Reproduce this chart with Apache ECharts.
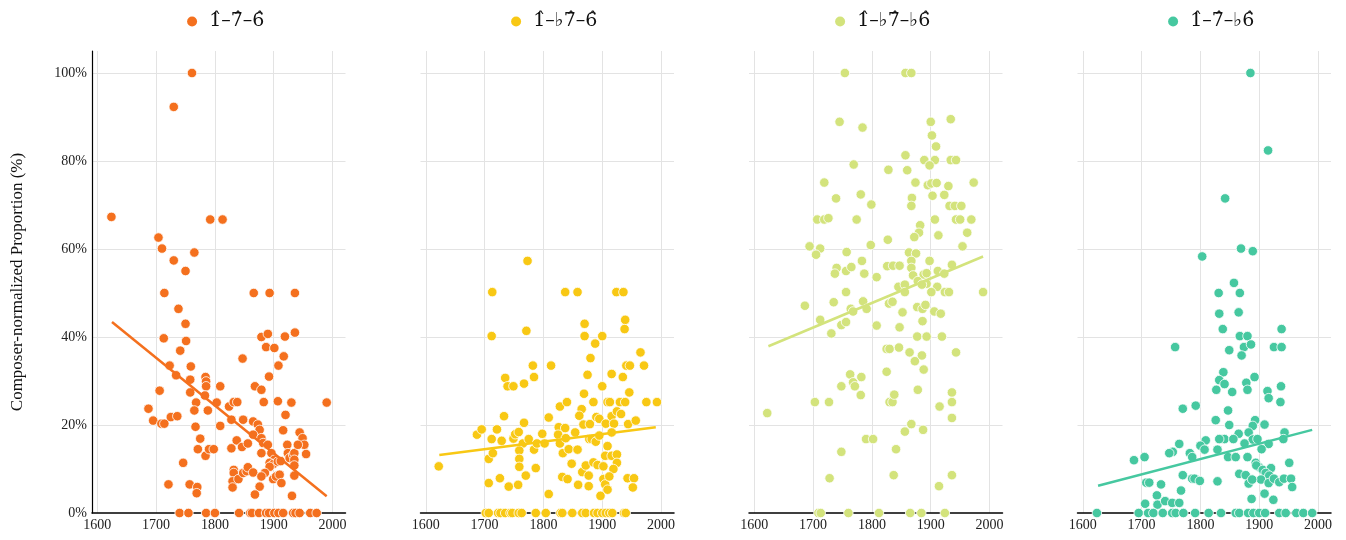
<!DOCTYPE html>
<html>
<head>
<meta charset="utf-8">
<script src="https://cdn.jsdelivr.net/npm/echarts@6/dist/echarts.min.js"></script>
<style>
html,body{margin:0;padding:0;background:#fff;}
#chart{width:1346px;height:540px;}
</style>
</head>
<body>
<div id="chart"></div>
<script>
// ---- Data (years, composer-normalized proportion %) ----
const panelTitles = ['1\u0302\u20137\u0302\u20136\u0302', '1\u0302\u2013\u266D7\u0302\u20136\u0302', '1\u0302\u2013\u266D7\u0302\u2013\u266D6\u0302', '1\u0302\u20137\u0302\u2013\u266D6\u0302'];
const xTickLabels = [1600, 1700, 1800, 1900, 2000];
const yTickLabels = [0, 20, 40, 60, 80, 100];

const p1Points = [[1761,100],[1730,92.3],[1624,67.3],[1792,66.7],[1813,66.7],[1704,62.6],[1710,60.1],[1765,59.2],[1730,57.4],[1750,55],
[1714,50],[1866,50],[1893,50],[1936,50],[1738,46.4],[1750,43],[1713,39.7],[1751,39.1],[1741,36.9],[1879,40],[1890,40.7],[1887,37.7],[1901,37.5],[1919,40.1],[1936,41],[1917,35.6],[1847,35.1],[1723,33.5],[1908,33.5],[1734,31.3],[1759,33.3],[1758,30.3],[1784,30.9],[1785,29.9],[1785,28.8],[1809,28.8],[1783,26.7],[1758,27.4],[1706,27.8],[1768,25.1],[1803,25.1],[1788,23.3],[1765,23.3],[1687,23.7],[1695,21],[1709,20.3],[1714,20.3],[1725,21.8],[1736,22],[1767,19.6],[1775,16.9],[1771,14.5],[1784,13],[1790,14.5],[1798,14.5],[1809,19.8],[1824,24.2],[1832,25.2],[1838,25.2],[1828,21.2],[1848,21.2],[1837,16.5],[1828,14.7],[1846,15],[1856,15.8],[1746,11.4],[1721,6.5],[1757,6.5],[1770,5.9],[1769,4.5],[1832,9.8],[1832,9.1],[1830,7.2],[1830,5.8],[1840,7.7],[1848,9.1],[1854,9.5],[1856,10.4],[1865,9.2],[1865,20.8],[1873,20.1],[1876,18.9],[1865,17.8],[1879,17],[1882,15.9],[1890,15.5],[1879,13.6],[1896,13.6],[1901,12.1],[1893,11.4],[1899,11.1],[1893,10.5],[1885,9.1],[1879,8.3],[1876,6],[1868,4.2],[1899,7.7],[1904,8.3],[1910,8.7],[1913,6.8],[1907,11.7],[1912,11.8],[1916,18.8],[1920,22.3],[1923,15.5],[1924,13.6],[1927,12.5],[1933,13.2],[1935,13.6],[1935,12.1],[1935,10.8],[1935,8.5],[1931,3.9],[1930,25.1],[1944,18.3],[1949,17],[1952,15.5],[1941,15.5],[1955,13.4],[1990,25.1],[1907,25.4],[1883,25.2],[1868,28.8],[1879,28],[1892,31]];
const p1ZeroYears = [1740,1755,1785,1800,1841,1860,1863,1875,1887,1892,1901,1908,1916,1933,1937,1944,1962,1973];
const p1Trend = [[1625,43.4],[1990,3.8]];

const p2Points = [[1773,57.3],[1713,50.2],[1837,50.2],[1858,50.2],[1924,50.2],[1936,50.2],[1870,43],[1939,43.9],[1938,41.8],[1712,40.2],[1771,41.4],[1870,40.2],[1900,40.2],[1888,38.5],[1965,36.5],[1880,35.2],[1782,33.5],[1813,33.5],[1941,33.5],[1947,33.5],[1971,33.5],[1875,31.4],[1916,31.6],[1935,30.9],[1735,30.7],[1784,30.9],[1739,28.8],[1749,28.8],[1767,29.4],[1900,28.8],[1869,27.1],[1946,27.4],[1828,24.2],[1840,25.2],[1885,25.2],[1909,25.2],[1913,25.2],[1930,25.2],[1939,25.2],[1975,25.2],[1993,25.2],[1733,22],[1809,21.7],[1865,23.6],[1861,22.1],[1890,21.8],[1895,21.4],[1916,22],[1925,23.1],[1932,22.5],[1767,20.5],[1826,19.5],[1868,20.1],[1879,20.2],[1906,20.3],[1920,20.3],[1944,20.2],[1957,21],[1687,17.8],[1695,19],[1721,19],[1712,16.8],[1729,16.4],[1749,16.9],[1752,17.9],[1758,18.4],[1765,15.8],[1775,16.8],[1784,14.4],[1789,15.8],[1798,18],[1802,15.8],[1825,17.8],[1828,15.8],[1837,19.3],[1838,17],[1833,13.6],[1843,14.5],[1854,18.3],[1858,14.4],[1878,16.8],[1882,16.8],[1889,16.2],[1895,17.6],[1909,15.2],[1916,18.3],[1905,13],[1916,13],[1925,13.3],[1925,11.4],[1919,10],[1707,12.3],[1714,13.6],[1759,14.2],[1759,12.3],[1759,10.5],[1787,10.2],[1848,11.2],[1866,9.3],[1877,8.5],[1872,10.8],[1885,11.5],[1892,10.9],[1902,10.6],[1622,10.6],[1707,6.8],[1726,7.9],[1741,6],[1757,6.4],[1770,8.5],[1832,8.2],[1841,7.7],[1859,6.4],[1877,6.1],[1902,7.7],[1905,6.5],[1909,5.3],[1912,8.3],[1943,7.9],[1954,7.9],[1952,5.8],[1809,4.3],[1897,3.9]];
const p2ZeroYears = [1702,1707,1723,1727,1735,1744,1747,1758,1763,1787,1804,1829,1832,1849,1866,1872,1886,1892,1900,1906,1912,1917,1937,1940];
const p2Trend = [[1623,13.2],[1991,19.5]];

const p3Points = [[1754,100],[1857,100],[1867,100],[1745,88.9],[1784,87.6],[1900,88.9],[1934,89.5],[1902,85.8],[1909,83.3],[1857,81.3],[1889,80.2],[1907,80.2],[1898,79],[1934,80.2],[1943,80.2],[1769,79.2],[1828,78],[1860,77.9],[1719,75.1],[1874,75.1],[1895,74.5],[1901,74.9],[1910,75],[1930,74.3],[1973,75.1],[1739,71.5],[1781,72.4],[1799,70.1],[1868,71.6],[1903,72.1],[1923,72.3],[1867,69.8],[1932,69.8],[1941,69.8],[1952,69.8],[1707,66.7],[1719,66.7],[1726,67],[1774,66.7],[1907,66.7],[1943,66.7],[1950,66.7],[1969,66.7],[1882,65.4],[1880,63.7],[1872,62.7],[1913,63.1],[1962,63.7],[1827,62.1],[1694,60.6],[1712,60.1],[1705,58.7],[1798,60.9],[1954,60.6],[1757,59.3],[1863,59.2],[1875,59],[1867,57.3],[1898,57.3],[1783,57.3],[1826,56.1],[1836,56.2],[1847,56.2],[1936,56.4],[1740,55.7],[1756,55],[1765,55.9],[1737,54.4],[1787,54.4],[1808,53.6],[1867,55.7],[1870,54],[1888,54.2],[1893,54.5],[1912,55],[1923,54.4],[1878,52.7],
[1845,51.4],[1856,51.9],[1856,50.2],[1893,52.1],[1885,51.9],[1911,51.4],[1924,50.2],[1931,50.2],[1989,50.2],[1756,50.2],[1735,47.9],[1686,47.1],[1785,48.1],[1791,46.4],[1764,46.4],[1768,45.8],[1829,47.6],[1835,48],[1852,45.6],[1877,46.8],[1886,46.4],[1891,47.3],[1906,45.8],[1917,45.3],[1901,50.2],[1712,43.9],[1748,42.7],[1756,43.4],[1808,42.6],[1847,42.2],[1886,43.6],[1731,40.8],[1877,40.1],[1893,40.1],[1919,40.1],[1825,37.3],[1830,37.3],[1846,37.6],[1864,36.5],[1885,35.8],[1873,34.5],[1888,32.6],[1943,36.5],[1825,32.1],[1763,31.5],[1782,30.9],[1768,29.7],[1771,28.8],[1748,28.8],[1781,26.8],[1703,25.2],[1727,25.2],[1830,25.2],[1835,25.2],[1838,26.9],[1878,28],[1936,27.4],[1936,25.2],[1915,24.2],[1936,21.6],[1622,22.7],[1867,20.2],[1856,18.5],[1887,18.9],[1790,16.8],[1802,16.8],[1841,14.5],[1748,13.9],[1728,7.9],[1837,8.6],[1936,8.6],[1914,6.1]];
const p3ZeroYears = [1709,1713,1760,1812,1865,1884,1924];
const p3Trend = [[1624,37.9],[1989,58.3]];

const p4Points = [[1885,100],[1915,82.4],[1842,71.5],[1869,60.1],[1889,59.5],[1803,58.3],[1857,52.3],[1831,50],[1867,50],
[1832,45.3],[1865,45.6],[1838,41.8],[1938,41.8],[1867,40.2],[1880,40.2],[1874,37.7],[1886,38.3],[1870,35.8],[1849,37],[1757,37.7],[1925,37.7],[1938,37.7],[1839,32],[1832,30.2],[1841,29.3],[1827,28],[1854,27.5],[1878,29.6],[1880,28],[1892,30.9],[1914,27.7],[1916,26.1],[1937,28.8],[1936,25.2],[1770,23.7],[1792,24.4],[1847,23.3],[1826,21.1],[1849,20],[1893,21.1],[1889,19.8],[1909,20.1],[1882,18.3],[1865,18],[1841,16.8],[1832,16.8],[1809,16.5],[1856,16.8],[1889,16.7],[1897,16.8],[1916,15.7],[1904,14.5],[1943,18.3],[1941,16.8],[1875,15.8],[1764,15.7],[1753,13.9],[1747,13.6],[1800,15.3],[1807,14.4],[1829,14.4],[1782,13.6],[1786,12.7],[1847,12.7],[1860,12.7],[1880,12.7],[1687,12],[1705,12.7],[1894,11.4],[1900,10.4],[1895,10.8],[1906,9.8],[1920,10.2],[1951,11.4],[1866,8.9],[1877,8.6],[1911,9.1],[1917,8.5],[1903,7.6],[1916,6.8],[1925,7.8],[1934,7],[1942,7.8],[1954,7.8],[1956,5.9],[1882,6.7],[1888,7.6],[1770,8.6],[1786,7.8],[1790,7.8],[1799,7.3],[1829,7.2],[1708,6.9],[1713,6.9],[1733,6.5],[1767,5.1],[1726,4],[1887,3.2],[1909,4.4],[1924,3],[1706,2.1],[1727,1.9],[1740,2.7],[1752,2.3],[1764,2.3]];
const p4ZeroYears = [1624,1695,1711,1720,1736,1752,1758,1771,1791,1814,1835,1860,1866,1881,1890,1900,1910,1934,1945,1963,1975,1990];
const p4Trend = [[1626,6.2],[1990,18.9]];

const panelColors = ['#F4701E', '#F8C814', '#D3E37C', '#46C8A0'];

// ---- Build chart ----
const allPoints = [p1Points, p2Points, p3Points, p4Points];
const allZeros = [p1ZeroYears, p2ZeroYears, p3ZeroYears, p4ZeroYears];
const allTrends = [p1Trend, p2Trend, p3Trend, p4Trend];

const serif = "'Liberation Serif', 'DejaVu Serif', serif";
const titleFont = "'DejaVu Serif', 'Liberation Serif', serif";
const gridLefts = [92, 420.5, 749, 1077.5];
const gridWidth = 253.5;

const grids = [], xAxes = [], yAxes = [], series = [], titles = [];
gridLefts.forEach((left, i) => {
  grids.push({left: left, top: 51, width: gridWidth, height: 462, containLabel: false});
  xAxes.push({
    type: 'value', gridIndex: i, min: 1591, max: 2022,
    minInterval: 100, maxInterval: 100,
    axisLine: {show: true, onZero: false, lineStyle: {color: '#000', width: 1.5}},
    axisTick: {show: false},
    axisLabel: {show: true, showMinLabel: false, showMaxLabel: false, margin: 5,
      fontFamily: serif, fontSize: 14, color: '#222',
      formatter: v => xTickLabels.includes(v) ? String(v) : ''},
    splitLine: {show: true, showMinLine: false, showMaxLine: false, lineStyle: {color: '#e3e3e3', width: 1}}
  });
  yAxes.push({
    type: 'value', gridIndex: i, min: 0, max: 105,
    minInterval: 20, maxInterval: 20,
    name: i === 0 ? 'Composer-normalized Proportion (%)' : '',
    nameLocation: 'middle', nameGap: 66, nameRotate: 90,
    nameTextStyle: {fontFamily: serif, fontSize: 17, color: '#111'},
    axisLine: {show: i === 0, lineStyle: {color: '#000', width: 1.2}},
    axisTick: {show: false},
    axisLabel: {show: i === 0, showMaxLabel: false, margin: 5,
      fontFamily: serif, fontSize: 14, color: '#222',
      formatter: v => yTickLabels.includes(v) ? v + '%' : ''},
    splitLine: {show: true, showMinLine: false, showMaxLine: false, lineStyle: {color: '#e3e3e3', width: 1}}
  });
  const pts = allPoints[i].concat(allZeros[i].map(y => [y, 0]));
  series.push({
    type: 'scatter', name: panelTitles[i], xAxisIndex: i, yAxisIndex: i,
    data: pts, symbolSize: 9.5, z: 2,
    itemStyle: {color: panelColors[i], borderColor: '#fff', borderWidth: 0.8, opacity: 1}
  });
  series.push({
    type: 'line', xAxisIndex: i, yAxisIndex: i, data: allTrends[i],
    showSymbol: false, symbol: 'none', z: 3, silent: true,
    lineStyle: {color: panelColors[i], width: 2.5}
  });
  titles.push({
    text: '{d|}  ' + panelTitles[i],
    left: left + gridWidth / 2 + 2, top: 7, textAlign: 'center',
    textStyle: {
      fontFamily: titleFont, fontSize: 19, fontWeight: 'normal', color: '#111',
      rich: {d: {width: 10, height: 10, borderRadius: 5, backgroundColor: panelColors[i]}}
    }
  });
});

const chart = echarts.init(document.getElementById('chart'), null, {renderer: 'canvas'});
chart.setOption({
  animation: false,
  backgroundColor: '#fff',
  title: titles,
  grid: grids,
  xAxis: xAxes,
  yAxis: yAxes,
  series: series
});
</script>
</body>
</html>
